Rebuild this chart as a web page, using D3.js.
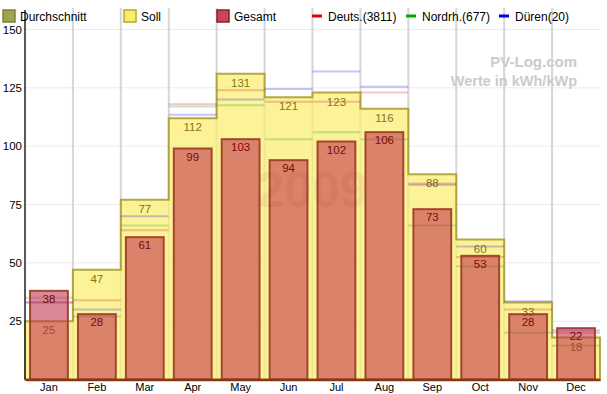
<!DOCTYPE html>
<html>
<head>
<meta charset="utf-8">
<script src="https://cdn.jsdelivr.net/npm/d3@7/dist/d3.min.js"></script>
<style>
  body { margin: 0; background: #fff; }
  svg text { font-family: "Liberation Sans", Arial, sans-serif; }
</style>
</head>
<body>
<div id="chart"></div>
<script>
// data (kWh/kWp)
var months = ["Jan","Feb","Mar","Apr","May","Jun","Jul","Aug","Sep","Oct","Nov","Dec"];
var soll   = [25, 47, 77, 112, 131, 121, 123, 116, 88, 60, 33, 18];
var gesamt = [38, 28, 61, 99, 103, 94, 102, 106, 73, 53, 28, 22];
var deuts  = [33, 34, 64, 118, 124, 119, 119, 123, 84, 52.5, 30, 20];
var nordrh = [35, 27, 66, 117, 117.5, 103, 106, 103, 66, 48.5, 20, 14.5];
var dueren = [33, 30, 70, 113.5, 120, 124.5, 132, 125.5, 83.5, 57, 33.5, 21];
var yTicks = [25, 50, 75, 100, 125, 150];

var width = 607, height = 394;
var plotLeft = 25, plotRight = 600, plotTop = 29.5, plotBottom = 379.5;

var svg = d3.select("#chart").append("svg")
    .attr("width", width)
    .attr("height", height);

var x = d3.scaleBand().domain(months).range([plotLeft, plotRight]).padding(0);
var xBar = d3.scaleBand().domain(months).range([plotLeft, plotRight]).paddingInner(0.21).paddingOuter(0.105);
var y = d3.scaleLinear().domain([0, 150]).range([plotBottom, plotTop]);

// horizontal grid
svg.append("g").selectAll("line")
    .data(yTicks).enter().append("line")
    .attr("x1", plotLeft).attr("x2", plotRight)
    .attr("y1", function(d){ return y(d); })
    .attr("y2", function(d){ return y(d); })
    .attr("stroke", "#ebebeb").attr("stroke-width", 1);

// vertical grid at month boundaries
svg.append("g").selectAll("line")
    .data(months.slice(1)).enter().append("line")
    .attr("x1", function(d){ return x(d); })
    .attr("x2", function(d){ return x(d); })
    .attr("y1", 8).attr("y2", plotBottom)
    .attr("stroke", "#d6d6d6").attr("stroke-width", 2);

// Soll step area
var sollPts = [[plotLeft, y(0)]];
soll.forEach(function(v, i){
    sollPts.push([x(months[i]), y(v)]);
    sollPts.push([x(months[i]) + x.bandwidth(), y(v)]);
});
sollPts.push([plotRight, y(0)]);
svg.append("path")
    .attr("d", d3.line()(sollPts) + "Z")
    .attr("fill", "#fbef72").attr("fill-opacity", 0.72)
    .attr("stroke", "#a89a2a").attr("stroke-opacity", 0.85).attr("stroke-width", 2);

svg.append("g").selectAll("text")
    .data(soll).enter().append("text")
    .attr("x", function(d, i){ return x(months[i]) + x.bandwidth() / 2; })
    .attr("y", function(d){ return y(d) + 13; })
    .attr("text-anchor", "middle")
    .attr("font-size", 11.5)
    .attr("fill", "#857514")
    .text(function(d){ return d; });

// reference lines
var refs = [
    { values: deuts,  color: "#e03030" },
    { values: nordrh, color: "#30a830" },
    { values: dueren, color: "#3030e0" }
];
refs.forEach(function(r){
    svg.append("g").selectAll("line")
        .data(r.values).enter().append("line")
        .attr("x1", function(d, i){ return x(months[i]); })
        .attr("x2", function(d, i){ return x(months[i]) + x.bandwidth(); })
        .attr("y1", function(d){ return y(d); })
        .attr("y2", function(d){ return y(d); })
        .attr("stroke", r.color).attr("stroke-opacity", 0.28).attr("stroke-width", 2);
});

// Gesamt bars
svg.append("g").selectAll("rect")
    .data(gesamt).enter().append("rect")
    .attr("x", function(d, i){ return xBar(months[i]); })
    .attr("y", function(d){ return y(d); })
    .attr("width", xBar.bandwidth())
    .attr("height", function(d){ return y(0) - y(d); })
    .attr("fill", "#c02444").attr("fill-opacity", 0.55)
    .attr("stroke", "#9a3a22").attr("stroke-opacity", 0.9).attr("stroke-width", 2);

svg.append("g").selectAll("text")
    .data(gesamt).enter().append("text")
    .attr("x", function(d, i){ return xBar(months[i]) + xBar.bandwidth() / 2; })
    .attr("y", function(d){ return y(d) + 12; })
    .attr("text-anchor", "middle")
    .attr("font-size", 11.5)
    .attr("fill", "#7a0a0a")
    .text(function(d){ return d; });

// watermark
svg.append("text")
    .attr("x", 312).attr("y", 207)
    .attr("text-anchor", "middle")
    .attr("font-size", 50).attr("font-weight", "bold")
    .attr("fill", "#a02020").attr("opacity", 0.07)
    .text("2009");

// x axis
var xAxis = svg.append("g")
    .attr("transform", "translate(0," + plotBottom + ")")
    .call(d3.axisBottom(x).tickSize(0).tickPadding(4));
xAxis.select(".domain").attr("stroke", "#8a3418").attr("stroke-width", 2.5);
xAxis.selectAll("text").attr("font-size", 11).attr("fill", "#000")
    .attr("font-family", "Liberation Sans, Arial, sans-serif");

// y axis
var yAxis = svg.append("g")
    .attr("transform", "translate(" + plotLeft + ",0)")
    .call(d3.axisLeft(y).tickValues(yTicks).tickSize(0).tickPadding(3));
yAxis.select(".domain").attr("d", "M0,10V" + plotBottom).attr("stroke", "#222").attr("stroke-width", 1.5);
yAxis.selectAll("text").attr("font-size", 11.5).attr("fill", "#000")
    .attr("font-family", "Liberation Sans, Arial, sans-serif");

// site texts
svg.append("text").attr("x", 577).attr("y", 67).attr("text-anchor", "end")
    .attr("font-size", 15).attr("font-weight", "bold").attr("fill", "#cbcbcb")
    .text("PV-Log.com");
svg.append("text").attr("x", 577).attr("y", 86).attr("text-anchor", "end")
    .attr("font-size", 14.5).attr("font-weight", "bold").attr("fill", "#cbcbcb")
    .text("Werte in kWh/kWp");

// legend
var boxItems = [
    { label: "Durchschnitt", x: 3,   fill: "#9ea450", stroke: "#7d8232" },
    { label: "Soll",         x: 124, fill: "#f8ee6a", stroke: "#b8a62c" },
    { label: "Gesamt",       x: 217, fill: "#c9455a", stroke: "#8e2020" }
];
var lineItems = [
    { label: "Deuts.(3811)", x: 312, color: "#e00000" },
    { label: "Nordrh.(677)", x: 406, color: "#00a800" },
    { label: "Düren(20)",    x: 499, color: "#0000e0" }
];
var legend = svg.append("g");
legend.selectAll("rect").data(boxItems).enter().append("rect")
    .attr("x", function(d){ return d.x; }).attr("y", 10)
    .attr("width", 12).attr("height", 12)
    .attr("fill", function(d){ return d.fill; })
    .attr("stroke", function(d){ return d.stroke; }).attr("stroke-width", 1.5);
legend.selectAll("line").data(lineItems).enter().append("line")
    .attr("x1", function(d){ return d.x; }).attr("x2", function(d){ return d.x + 10; })
    .attr("y1", 16).attr("y2", 16)
    .attr("stroke", function(d){ return d.color; }).attr("stroke-width", 3);
legend.selectAll("text").data(boxItems.concat(lineItems)).enter().append("text")
    .attr("x", function(d){ return d.fill ? d.x + 17 : d.x + 16; })
    .attr("y", 20.5)
    .attr("font-size", 12)
    .attr("fill", "#000")
    .text(function(d){ return d.label; });
</script>
</body>
</html>
